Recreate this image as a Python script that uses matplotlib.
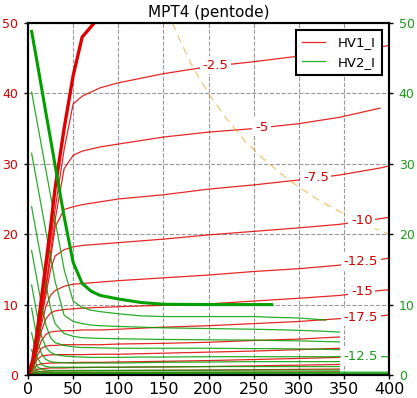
import numpy as np
import matplotlib
matplotlib.use("Agg")
import matplotlib.pyplot as plt

nan = np.nan

# ---------------- data ----------------
# anode voltage grid for anode (HV1) current curves
VA = [0, 5, 10, 15, 20, 25, 30, 40, 50, 60, 80, 100, 150, 200, 250, 300, 345, 390, 400]

IA_0    = [0, 2, 6, 11, 16, 21, 26.5, 35, 42.5, 48, 51, 52.5, nan, nan, nan, nan, nan, nan, nan]
IA_2_5  = [0, 1.8, 5.5, 10, 14.5, 19, 23.5, 32, 38.5, 39.6, 40.8, 41.5, 42.8, 43.8, 44.5, 45.3, 46, 46.6, 46.8]
IA_5    = [0, 1.6, 5, 9, 13, 17.5, 22, 29.3, 31.2, 31.8, 32.4, 32.8, 33.8, 34.5, 35.0, 35.7, 36.6, 37.9, nan]
IA_7_5  = [0, 1.5, 4.5, 8.5, 12.5, 16.5, 21.0, 23.5, 23.9, 24.2, 24.6, 25.0, 25.6, 26.4, 27.0, 27.7, 28.4, 29.4, 29.7]
IA_10   = [0, 1.4, 4.2, 8, 11.5, 15, 16.9, 17.8, 18.2, 18.4, 18.6, 18.8, 19.3, 19.9, 20.4, 20.9, 21.4, 22.2, 22.4]
IA_12_5 = [0, 1.3, 3.9, 7.2, 9.8, 11.3, 12.0, 12.6, 12.9, 13.0, 13.2, 13.4, 13.8, 14.2, 14.7, 15.1, 15.6, 16.4, 16.6]
IA_15   = [0, 1.2, 3.6, 6.3, 8.0, 8.8, 9.1, 9.3, 9.4, 9.5, 9.6, 9.7, 9.9, 10.1, 10.5, 10.9, 11.3, 12.0, 12.1]
IA_17_5 = [0, 1.1, 3.2, 4.9, 5.8, 6.1, 6.2, 6.3, 6.3, 6.4, 6.4, 6.5, 6.8, 7.0, 7.3, 7.6, 8.0, 8.4, 8.5]
IA_20   = [0, 1.0, 2.7, 3.8, 4.1, 4.2, 4.2, 4.3, 4.3, 4.3, 4.3, 4.4, 4.5, 4.65, 4.9, 5.1, 5.4, nan, nan]
IA_22_5 = [0, 0.9, 2.2, 2.7, 2.8, 2.85, 2.9, 2.9, 2.9, 2.9, 2.95, 2.95, 3.1, 3.25, 3.4, 3.6, 3.8, nan, nan]
IA_25   = [0, 0.7, 1.4, 1.6, 1.65, 1.7, 1.7, 1.75, 1.75, 1.8, 1.8, 1.85, 1.95, 2.05, 2.2, 2.35, 2.5, nan, nan]
IA_27_5 = [0, 0.5, 0.8, 0.9, 0.95, 1.0, 1.0, 1.0, 1.05, 1.05, 1.1, 1.1, 1.15, 1.2, 1.3, 1.4, 1.5, nan, nan]
IA_30   = [0, 0.3, 0.45, 0.5, 0.55, 0.55, 0.6, 0.6, 0.6, 0.6, 0.62, 0.64, 0.66, 0.7, 0.75, 0.8, 0.85, nan, nan]
IA_32_5 = [0, 0.15, 0.25, 0.28, 0.3, 0.3, 0.32, 0.32, 0.33, 0.33, 0.34, 0.35, 0.36, 0.38, 0.4, 0.42, 0.45, nan, nan]

IA_THIN = [IA_2_5, IA_5, IA_7_5, IA_10, IA_12_5, IA_15, IA_17_5,
           IA_20, IA_22_5, IA_25, IA_27_5, IA_30, IA_32_5]

# voltage grid for screen (HV2) current curves
VG2 = [4, 10, 15, 20, 25, 30, 40, 50, 60, 70, 80, 100, 125, 150, 200, 250, 270, 300, 330, 345, 400]

IG_0    = [48.8, 44.5, 40.8, 37.1, 33.5, 29.8, 22.5, 16.0, 13.0, 11.9, 11.3, 10.8, 10.3, 10.05, 10.0, 10.0, 10.0, nan, nan, nan, nan]
IG_2_5  = [40.2, 36.0, 32.5, 29.0, 25.5, 22.0, 15.0, 10.5, 9.6, 9.2, 9.0, 8.7, 8.4, 8.3, 8.3, 8.3, 8.2, 8.1, 7.8, nan, nan]
IG_5    = [31.5, 27.3, 23.8, 20.3, 16.8, 13.3, 8.5, 7.6, 7.3, 7.1, 7.0, 6.9, 6.8, 6.7, 6.6, 6.5, 6.45, 6.35, 6.2, 6.1, nan]
IG_7_5  = [23.9, 19.7, 16.2, 12.7, 9.5, 7.3, 5.9, 5.5, 5.3, 5.25, 5.2, 5.15, 5.1, 5.05, 5.0, 4.95, 4.9, 4.85, 4.75, 4.7, nan]
IG_10   = [17.7, 13.5, 10.0, 7.0, 5.3, 4.6, 4.2, 4.0, 3.9, 3.9, 3.85, 3.8, 3.8, 3.8, 3.8, 3.75, 3.75, 3.7, 3.65, 3.6, nan]
IG_12_5 = [12.8, 8.6, 5.5, 3.9, 3.2, 2.9, 2.7, 2.6, 2.55, 2.5, 2.5, 2.5, 2.55, 2.55, 2.6, 2.6, 2.6, 2.6, 2.6, 2.6, 2.6]
IG_15   = [9.5, 5.2, 3.0, 2.2, 1.9, 1.8, 1.75, 1.7, 1.7, 1.7, 1.7, 1.7, 1.75, 1.8, 1.85, 1.9, 1.9, 1.9, 1.9, 1.9, nan]
IG_17_5 = [6.0, 2.5, 1.5, 1.2, 1.1, 1.1, 1.1, 1.1, 1.1, 1.1, 1.1, 1.1, 1.15, 1.15, 1.2, 1.2, 1.2, 1.2, 1.2, 1.2, nan]
IG_20   = [3.6, 1.2, 0.8, 0.7, 0.65, 0.65, 0.65, 0.65, 0.65, 0.65, 0.65, 0.65, 0.66, 0.67, 0.68, 0.69, 0.7, 0.7, 0.7, 0.7, nan]
IG_22_5 = [2.1, 0.6, 0.45, 0.4, 0.4, 0.4, 0.4, 0.4, 0.4, 0.4, 0.4, 0.4, 0.4, 0.4, 0.4, 0.4, 0.4, 0.4, 0.4, 0.4, 0.4]
IG_25   = [1.1, 0.3, 0.25, 0.22, 0.22, 0.22, 0.22, 0.22, 0.22, 0.22, 0.22, 0.22, 0.23, 0.23, 0.24, 0.24, 0.25, 0.25, 0.25, 0.25, 0.25]
IG_27_5 = [0.5, 0.15, 0.12, 0.12, 0.12, 0.12, 0.12, 0.12, 0.12, 0.12, 0.12, 0.12, 0.12, 0.12, 0.12, 0.12, 0.12, 0.12, 0.12, 0.12, 0.12]
IG_30   = [0.2, 0.06, 0.05, 0.05, 0.05, 0.05, 0.05, 0.05, 0.05, 0.05, 0.05, 0.05, 0.05, 0.05, 0.05, 0.05, 0.05, 0.05, 0.05, 0.05, 0.05]

IG_THIN = [IG_2_5, IG_5, IG_7_5, IG_10, IG_12_5, IG_15, IG_17_5,
           IG_20, IG_22_5, IG_25, IG_27_5, IG_30]

# maximum anode dissipation curve
PA_V = [160, 170, 180, 190, 200, 220, 240, 260, 280, 300, 325, 350, 375, 400]
PA_I = [50, 47.1, 44.4, 42.1, 40, 36.4, 33.3, 30.8, 28.6, 26.7, 24.6, 22.9, 21.3, 20]

# curve labels
RED_LABELS = ["-2.5", "-5", "-7.5", "-10", "-12.5", "-15", "-17.5"]
RED_LABEL_POS = [(208, 44.0), (259, 35.2), (319, 28.0), (370, 22.0),
                 (369, 16.1), (370, 11.8), (369, 8.2)]
GREEN_LABELS = ["-12.5"]
GREEN_LABEL_POS = [(369, 2.56)]

X_TICKS = [0, 50, 100, 150, 200, 250, 300, 350, 400]
Y_TICKS = [0, 10, 20, 30, 40, 50]

# ---------------- plot ----------------
RED = "#e00000"
GREEN = "#00a000"
RED_TXT = "#d40000"
GREEN_TXT = "#1a9a1a"

fig = plt.figure(figsize=(4.17, 3.98), dpi=100)
ax = fig.add_axes([28 / 417, 23 / 398, 361 / 417, 352 / 398])

ax.set_xlim(0, 400)
ax.set_ylim(0, 50)

ax.grid(True, color="#999999", linestyle="--", linewidth=0.8)
ax.set_axisbelow(True)

# anode currents
for i, ia in enumerate(IA_THIN):
    ax.plot(VA, ia, color=RED, lw=0.9, alpha=0.85,
            label="HV1_I" if i == 0 else None, zorder=2)
ax.plot(VA, IA_0, color=RED, lw=2.4, zorder=2.2)

# screen currents
for i, ig in enumerate(IG_THIN):
    ax.plot(VG2, ig, color=GREEN, lw=0.9, alpha=0.85,
            label="HV2_I" if i == 0 else None, zorder=2.1)
ax.plot(VG2, IG_0, color=GREEN, lw=2.2, zorder=2.3)

# dissipation curve
ax.plot(PA_V, PA_I, color="#f0a830", lw=0.8, alpha=0.75,
        linestyle=(0, (7, 5)), zorder=2.4)

box = dict(boxstyle="square,pad=0.2", fc="white", ec="none")
for txt, (x, y) in zip(RED_LABELS, RED_LABEL_POS):
    ax.text(x, y, txt, color=RED_TXT, fontsize=9.5, ha="center", va="center",
            bbox=box, zorder=4, clip_on=True)
for txt, (x, y) in zip(GREEN_LABELS, GREEN_LABEL_POS):
    ax.text(x, y, txt, color=GREEN_TXT, fontsize=9.5, ha="center", va="center",
            bbox=box, zorder=4, clip_on=True)

ax.set_xticks(X_TICKS)
ax.set_yticks(Y_TICKS)
ax.tick_params(axis="x", labelsize=11.5, length=3, width=1, pad=2)
ax.tick_params(axis="y", labelsize=9, length=3, width=1, pad=4, labelcolor=RED_TXT)

for s in ax.spines.values():
    s.set_linewidth(1.5)

ax.set_title("MPT4 (pentode)", fontsize=11, pad=4)

leg = ax.legend(loc="upper right", fontsize=9.5, frameon=True, fancybox=False,
                framealpha=1, edgecolor="black", handlelength=1.7,
                handletextpad=1.0, borderpad=0.5, labelspacing=0.5,
                borderaxespad=0.5)
leg.get_frame().set_linewidth(1.5)
leg.set_zorder(6)

ax2 = ax.twinx()
ax2.set_ylim(0, 50)
ax2.set_yticks(Y_TICKS)
ax2.tick_params(axis="y", labelsize=9, length=3, width=1, pad=4, labelcolor=GREEN_TXT)
for s in ax2.spines.values():
    s.set_linewidth(1.5)

fig.savefig("out.png", dpi=100)
